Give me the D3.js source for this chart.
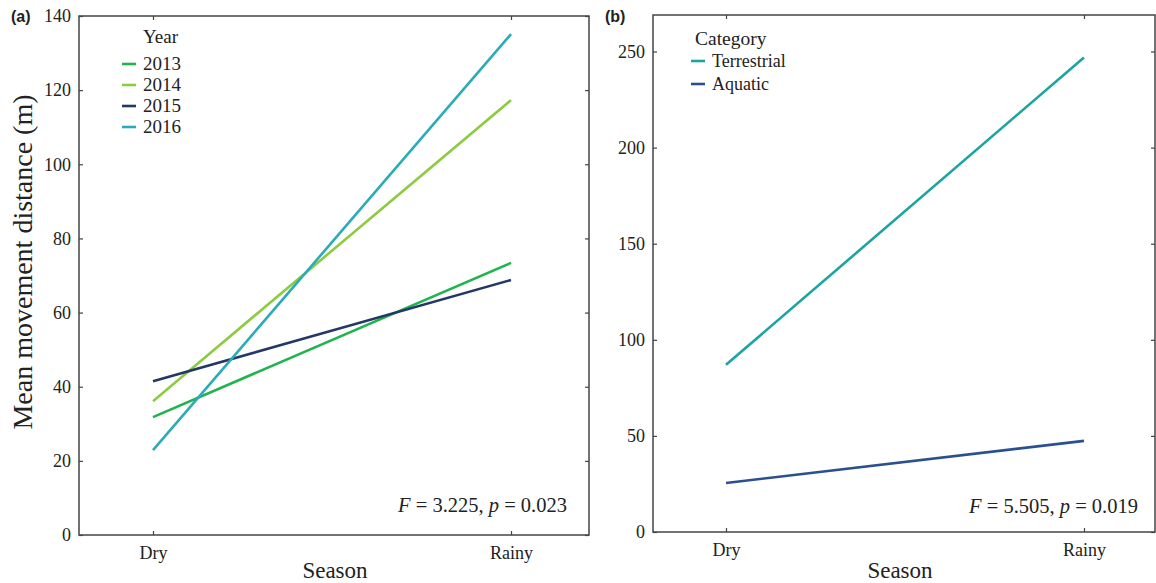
<!DOCTYPE html>
<html><head><meta charset="utf-8">
<script src="https://cdn.jsdelivr.net/npm/d3@7"></script>
<style>
body{margin:0;background:#fff;}
svg text{fill:#222;}
</style></head>
<body>
<svg id="c" width="1156" height="583"></svg>
<script>
const seasons = ["Dry","Rainy"];
const yearNames = ["2013","2014","2015","2016"];
const yearColors = ["#1fb44e","#8dcb40","#233864","#2aacb8"];
const yearValues = [[31.8,73.4],[36.1,117.3],[41.5,68.8],[22.9,135.1]];
const ticksA = [0,20,40,60,80,100,120,140];

const catNames = ["Terrestrial","Aquatic"];
const catColors = ["#1ca3a3","#2b5090"];
const catValues = [[87,246.9],[25.5,47.4]];
const ticksB = [0,50,100,150,200,250];

const SERIF = "'Liberation Serif','Times New Roman',serif";
const svg = d3.select("#c");

function panel(o){
  const g = svg.append("g").style("font-family",SERIF);
  const x = d3.scalePoint().domain(seasons).range([o.dry,o.rainy]);
  const y = d3.scaleLinear().domain(o.ydom).range([o.bottom,o.top]);
  g.append("rect").attr("x",o.left).attr("y",o.top).attr("width",o.right-o.left).attr("height",o.bottom-o.top)
   .attr("fill","none").attr("stroke","#444").attr("stroke-width",1.5);
  const ya = g.append("g").attr("transform",`translate(${o.left},0)`).call(d3.axisLeft(y).tickValues(o.ticks).tickSize(-4).tickPadding(8));
  const yr = g.append("g").attr("transform",`translate(${o.right},0)`).call(d3.axisRight(y).tickValues(o.ticks).tickSize(-4).tickFormat(""));
  const xa = g.append("g").attr("transform",`translate(0,${o.bottom})`).call(d3.axisBottom(x).tickSize(-4).tickPadding(11));
  const xt = g.append("g").attr("transform",`translate(0,${o.top})`).call(d3.axisTop(x).tickSize(-4).tickFormat(""));
  [ya,yr,xa,xt].forEach(a=>{a.attr("font-family",null).attr("font-size",null);
    a.select(".domain").remove();a.selectAll("line").attr("stroke","#444").attr("stroke-width",1.2);
    a.selectAll("text").style("font-size","18px").style("font-family",SERIF).attr("fill","#222");});
  const line = d3.line().x((d,i)=>x(seasons[i])).y(d=>y(d));
  o.values.forEach((v,i)=>{
    g.append("path").datum(v).attr("d",line).attr("fill","none").attr("stroke",o.colors[i]).attr("stroke-width",2.6);
  });
  g.append("text").attr("x",o.legX+o.titleDx).attr("y",o.legY).style("font-size",o.titleSize+"px").text(o.legTitle);
  o.names.forEach((n,i)=>{
    const yy = o.legY + o.legFirst + i*o.legStep;
    g.append("line").attr("x1",o.legX).attr("x2",o.legX+14).attr("y1",yy-6).attr("y2",yy-6).attr("stroke",o.colors[i]).attr("stroke-width",2.6);
    g.append("text").attr("x",o.legX+21).attr("y",yy).style("font-size",o.itemSize+"px").text(n);
  });
  const t = g.append("text").attr("x",o.annX).attr("y",o.annY).attr("text-anchor","end").style("font-size","20.5px");
  t.append("tspan").attr("font-style","italic").text("F");
  t.append("tspan").text(" = " + o.F + ", ");
  t.append("tspan").attr("font-style","italic").text("p");
  t.append("tspan").text(" = " + o.p);
  g.append("text").attr("x",o.xtitleX).attr("y",578).attr("text-anchor","middle").style("font-size","23px").text("Season");
  g.append("text").attr("x",o.labX).attr("y",22).style("font-family","'Liberation Sans',Arial,sans-serif").style("font-weight","bold").style("font-size","16px").attr("fill","#111").text(o.lab);
}

panel({left:79,right:589,top:16,bottom:535,dry:153,rainy:511,ydom:[0,140],ticks:ticksA,values:yearValues,colors:yearColors,names:yearNames,
  legX:122,legY:43,legFirst:27,legStep:21,titleDx:21,titleSize:19,itemSize:19,legTitle:"Year",annX:567,annY:512,F:"3.225",p:"0.023",xtitleX:335,labX:11,lab:"(a)"});
panel({left:653,right:1155,top:15,bottom:532,dry:726,rainy:1084,ydom:[0,269],ticks:ticksB,values:catValues,colors:catColors,names:catNames,
  legX:691,legY:45,legFirst:22,legStep:23,titleDx:4,titleSize:19.5,itemSize:18,legTitle:"Category",annX:1138,annY:513,F:"5.505",p:"0.019",xtitleX:900,labX:605,lab:"(b)"});

svg.append("text").attr("transform","translate(32,262) rotate(-90)").attr("text-anchor","middle")
  .style("font-family",SERIF).style("font-size","28px").text("Mean movement distance (m)");
</script>
</body></html>
